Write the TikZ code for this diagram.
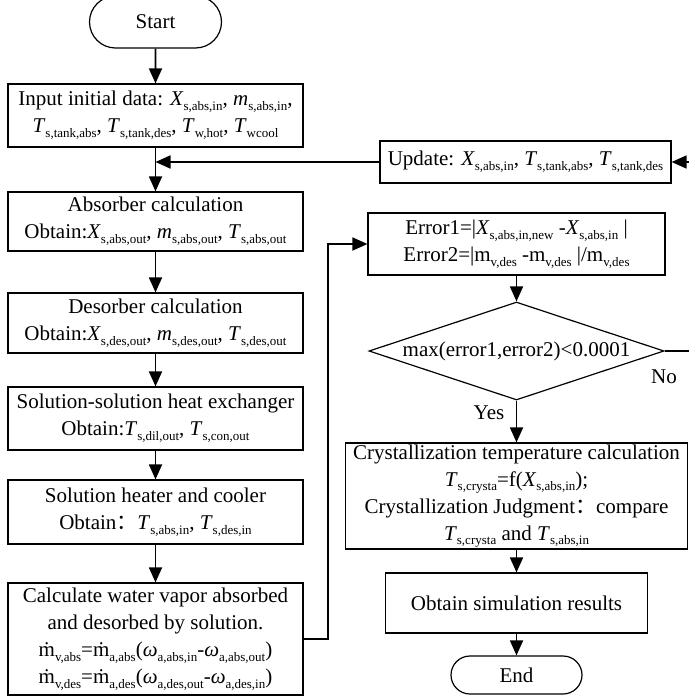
\documentclass[tikz,border=0pt]{standalone}
\usepackage{fontspec}
\setmainfont{Liberation Serif}
\newfontfamily\cjk{Noto Sans CJK SC}
\usetikzlibrary{arrows.meta,shapes.geometric,shapes.misc}
\newcommand\sbx[1]{\raisebox{-0.22em}{\fontsize{13}{13}\selectfont #1}}
\newcommand\qv[2]{\textit{#1}\sbx{#2}}
\newcommand\qu[2]{#1\sbx{#2}}
\tikzset{
  box/.style={draw, line width=1.2pt, rectangle, inner sep=0pt, align=center, minimum width=295pt},
  term/.style={draw, line width=1.2pt, rounded rectangle, inner sep=0pt, align=center},
  dec/.style={draw, line width=1.2pt, diamond, inner sep=0pt, align=center},
  arr/.style={line width=1.8pt, -{Triangle[length=15pt,width=13pt]}},
  lbl/.style={inner sep=0pt}
}
\begin{document}
\begin{tikzpicture}[x=1pt,y=-1pt,font=\fontsize{21}{27}\selectfont]
\useasboundingbox (0,0) rectangle (688,698);
% left column
\node[term, minimum width=132pt, minimum height=52pt] (start) at (155.5,22) {Start};
\node[box, minimum height=63pt] (input) at (155.5,115.5)
  {Input initial data: \qv{X}{s,abs,in}, \qv{m}{s,abs,in},\\
   \qv{T}{s,tank,abs}, \qv{T}{s,tank,des}, \qv{T}{w,hot}, \qv{T}{wcool}};
\node[box, minimum height=59pt] (abs) at (155.5,221.5)
  {Absorber calculation\\Obtain:\qv{X}{s,abs,out}, \qv{m}{s,abs,out}, \qv{T}{s,abs,out}};
\node[box, minimum height=60pt] (des) at (155.5,323)
  {Desorber calculation\\Obtain:\qv{X}{s,des,out}, \qv{m}{s,des,out}, \qv{T}{s,des,out}};
\node[box, minimum height=63pt] (hx) at (155.5,418.5)
  {Solution-solution heat exchanger\\Obtain:\qv{T}{s,dil,out}, \qv{T}{s,con,out}};
\node[box, minimum height=64pt] (heat) at (155.5,512)
  {Solution heater and cooler\\Obtain{\cjk ：}\qv{T}{s,abs,in}, \qv{T}{s,des,in}};
\node[box, minimum height=112pt] (calc) at (155.5,639)
  {Calculate water vapor absorbed\\and desorbed by solution.\\
   \qu{\.{m}}{v,abs}=\qu{\.{m}}{a,abs}(\qv{ω}{a,abs,in}-\qv{ω}{a,abs,out})\\
   \qu{\.{m}}{v,des}=\qu{\.{m}}{a,des}(\qv{ω}{a,des,out}-\qv{ω}{a,des,in})};
% right column
\node[box, minimum width=291pt, minimum height=42pt] (update) at (525.5,162)
  {Update: \qv{X}{s,abs,in}, \qv{T}{s,tank,abs}, \qv{T}{s,tank,des}};
\node[box, minimum width=297pt, minimum height=62pt] (err) at (516.5,244)
  {Error1=|\qv{X}{s,abs,in,new} -\qv{X}{s,abs,in} |\\
   Error2=|\qu{m}{v,des} -\qu{m}{v,des} |/\qu{m}{v,des}};
\node[dec, minimum width=295pt, minimum height=98pt] (decn) at (516.5,351)
  {\makebox[0pt]{max(error1,error2)<0.0001}};
\node[box, minimum width=342pt, minimum height=106pt] (cryst) at (516.5,496)
  {Crystallization temperature calculation\\
   \qv{T}{s,crysta}=f(\qv{X}{s,abs,in});\\
   Crystallization Judgment{\cjk ：}compare\\
   \qv{T}{s,crysta} and \qv{T}{s,abs,in}};
\node[box, minimum width=262pt, minimum height=60pt] (res) at (516.5,603)
  {Obtain simulation results};
\node[term, minimum width=131pt, minimum height=38pt] (end) at (516.5,675) {End};
% labels
\node[lbl] (no) at (664,377) {No};
\node[lbl] (yes) at (489,413) {Yes};
% helper coordinates
\coordinate (merge) at (155.5,162);
\coordinate (fb) at (700,351);
\coordinate (c1) at (328,0);
% connectors
\draw[arr] (start) -- (input);
\draw[line width=1.8pt] (input) -- (merge);
\draw[arr] (merge) -- (abs);
\draw[arr] (update.west) -- (merge);
\draw[arr] (abs) -- (des);
\draw[arr] (des) -- (hx);
\draw[arr] (hx) -- (heat);
\draw[arr] (heat) -- (calc);
\draw[arr] (calc.east) -- (calc.east -| c1) |- (err.west);
\draw[arr] (err) -- (decn);
\draw[arr] (decn) -- (cryst);
\draw[arr] (cryst) -- (res);
\draw[arr] (res) -- (end);
\draw[arr] (decn.east) -- (fb) |- (update.east);
\end{tikzpicture}
\end{document}
